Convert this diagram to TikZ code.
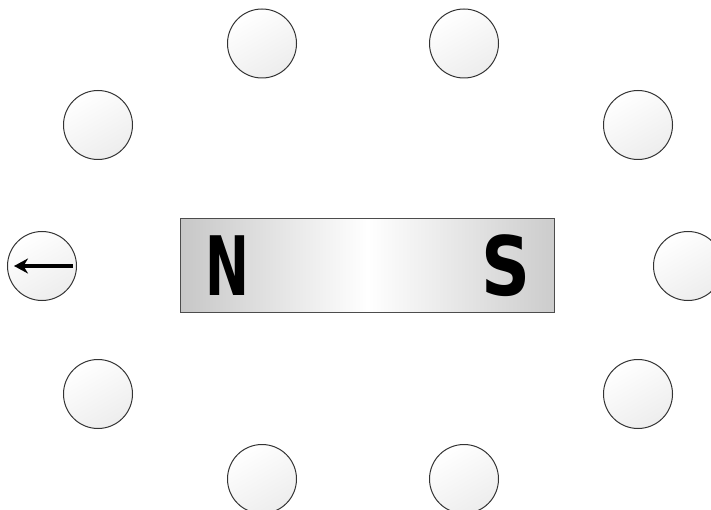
\documentclass[tikz,border=0pt]{standalone}
\usepackage{fontspec}
\setmainfont{Liberation Sans}
\newfontfamily\polefont{DejaVu Sans}
\usetikzlibrary{arrows.meta}
\tikzset{
  compass/.style={circle, draw=black!80, line width=1pt, minimum size=69pt, inner sep=0pt,
    top color=white, bottom color=black!7, shading angle=30},
  magnet/.style={draw=black!70, line width=1pt, minimum width=374pt, minimum height=93pt, inner sep=0pt},
  pole/.style={font=\polefont\fontsize{82}{82}\selectfont\bfseries, inner sep=0pt},
  needle/.style={line width=3.2pt, -{Stealth[length=14pt,width=15pt]}}
}
\begin{document}
\begin{tikzpicture}[x=1pt,y=-1pt]
\useasboundingbox (0,0) rectangle (711,510);
\node[magnet, left color=black!22, right color=black!20, middle color=white] (mag) at (367.5,265.5) {};
\node[pole] (N) at (227,266) {\scalebox{0.64}[1]{N}};
\node[pole] (S) at (506,266) {\scalebox{0.83}[1]{S}};
\node[compass] (c1) at (262,43.5) {};
\node[compass] (c2) at (464,43.5) {};
\node[compass] (c3) at (98,125) {};
\node[compass] (c4) at (638,125) {};
\node[compass] (c5) at (42,266) {};
\node[compass] (c6) at (688,266) {};
\node[compass] (c7) at (98,394) {};
\node[compass] (c8) at (638,394) {};
\node[compass] (c9) at (262,479) {};
\node[compass] (c10) at (464,479) {};
\coordinate (a1) at ([xshift=31pt]c5.center);
\coordinate (a2) at ([xshift=-28pt]c5.center);
\draw[needle] (a1) -- (a2);
\end{tikzpicture}
\end{document}
